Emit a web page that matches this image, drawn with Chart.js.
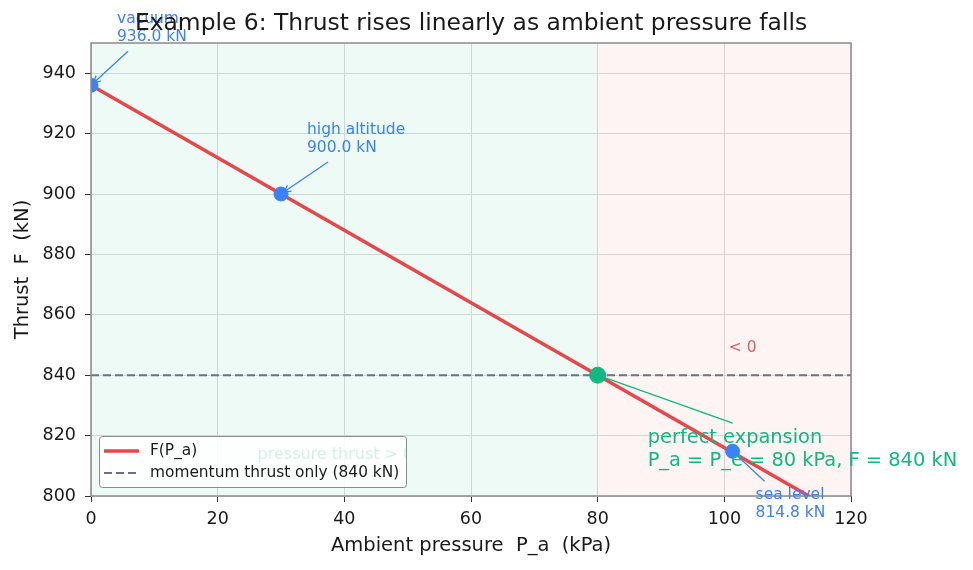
<!DOCTYPE html>
<html>
<head>
<meta charset="utf-8">
<script src="https://cdn.jsdelivr.net/npm/chart.js@4.4.1/dist/chart.umd.min.js"></script>
<style>
  html, body { margin: 0; padding: 0; background: #ffffff; }
  #wrap { width: 973px; height: 570px; }
</style>
</head>
<body>
<div id="wrap"><canvas id="thrustChart" width="973" height="570"></canvas></div>
<script>
// ---- data ----
const linePressure = [0, 120];            // kPa
const lineThrust = [936, 792];            // kN (clipped at 800 by the axis)
const momentumPressure = [0, 120];
const momentumThrust = [840, 840];
const keyNames = ['vacuum', 'high altitude', 'perfect expansion', 'sea level'];
const keyPressure = [0, 30, 80, 101.3];
const keyThrust = [936.0, 900.0, 840.0, 814.8];
const xTicks = [0, 20, 40, 60, 80, 100, 120];
const yTicks = [800, 820, 840, 860, 880, 900, 920, 940];

const colors = {
  red: '#e8474a',
  blue: '#3b82f6',
  green: '#10b981',
  gray: '#6b7280',
  frame: '#8a8a8a',
  grid: '#d9dcdc'
};
const FONT = '"DejaVu Sans", Verdana, sans-serif';

// label offsets relative to each key point (pixels)
const notes = [
  { dx: 26, dy: -66, lines: [keyNames[0], '936.0 kN'], size: 15.5, color: colors.blue, tail: [37, -34], arrow: true },
  { dx: 26, dy: -64, lines: [keyNames[1], '900.0 kN'], size: 15.5, color: colors.blue, tail: [47, -32], arrow: true },
  { dx: 50, dy: 63, lines: [keyNames[2], 'P_a = P_e = 80 kPa, F = 840 kN'], size: 19.4, color: colors.green, tail: [135, 48], arrow: false },
  { dx: 23, dy: 44, lines: [keyNames[3], '814.8 kN'], size: 15.5, color: colors.blue, tail: [32, 30], arrow: false }
];

const regionPlugin = {
  id: 'regions',
  beforeDatasetsDraw(chart) {
    const { ctx, chartArea: a, scales: { x, y } } = chart;
    ctx.save();
    ctx.fillStyle = 'rgba(16,185,129,0.07)';
    ctx.fillRect(a.left, a.top, x.getPixelForValue(80) - a.left, a.bottom - a.top);
    ctx.fillStyle = 'rgba(239,68,68,0.06)';
    ctx.fillRect(x.getPixelForValue(80), a.top, a.right - x.getPixelForValue(80), a.bottom - a.top);
    ctx.font = '15.5px ' + FONT;
    ctx.textBaseline = 'middle';
    ctx.fillStyle = 'rgba(229,62,62,0.85)';
    ctx.textAlign = 'left';
    ctx.fillText('< 0', x.getPixelForValue(100.7), y.getPixelForValue(849));
    ctx.restore();
  }
};

const overlayPlugin = {
  id: 'overlay',
  afterDraw(chart) {
    const { ctx, chartArea: a, scales: { x, y } } = chart;
    ctx.save();
    // frame
    ctx.strokeStyle = colors.frame;
    ctx.lineWidth = 1.5;
    ctx.strokeRect(a.left, a.top, a.right - a.left, a.bottom - a.top);

    // annotations
    notes.forEach((n, i) => {
      const px = x.getPixelForValue(keyPressure[i]);
      const py = y.getPixelForValue(keyThrust[i]);
      const tx = px + n.tail[0], ty = py + n.tail[1];
      const ang = Math.atan2(py - ty, px - tx);
      ctx.strokeStyle = n.color;
      ctx.lineWidth = 1.3;
      const gap = n.arrow ? 3 : 9;
      const ex = px - Math.cos(ang) * gap, ey = py - Math.sin(ang) * gap;
      ctx.beginPath();
      ctx.moveTo(tx, ty);
      ctx.lineTo(ex, ey);
      ctx.stroke();
      if (n.arrow) {
        ctx.beginPath();
        ctx.moveTo(ex - Math.cos(ang - 0.45) * 8, ey - Math.sin(ang - 0.45) * 8);
        ctx.lineTo(ex, ey);
        ctx.lineTo(ex - Math.cos(ang + 0.45) * 8, ey - Math.sin(ang + 0.45) * 8);
        ctx.stroke();
      }
      ctx.fillStyle = n.color;
      ctx.font = n.size + 'px ' + FONT;
      ctx.textAlign = 'left';
      ctx.textBaseline = 'middle';
      const lh = n.size * 1.16;
      n.lines.forEach((t, k) => ctx.fillText(t, px + n.dx, py + n.dy + k * lh));
    });

    // title
    ctx.fillStyle = '#1a1a1a';
    ctx.font = '23.4px ' + FONT;
    ctx.textAlign = 'center';
    ctx.textBaseline = 'middle';
    ctx.fillText('Example 6: Thrust rises linearly as ambient pressure falls', (a.left + a.right) / 2, 24);

    // legend box
    const lx = a.left + 8, ly = a.bottom - 60, lw = 307, lh = 51;
    ctx.fillStyle = 'rgba(255,255,255,0.85)';
    ctx.strokeStyle = '#8c8c8c';
    ctx.lineWidth = 1;
    ctx.beginPath();
    ctx.roundRect(lx + 0.5, ly + 0.5, lw, lh, 3);
    ctx.fill();
    ctx.stroke();

    // faint caption of the positive pressure-thrust region, only showing on the legend
    ctx.save();
    ctx.beginPath();
    ctx.rect(lx + 1, ly + 1, lw - 1, lh - 1);
    ctx.clip();
    ctx.font = '16px ' + FONT;
    ctx.textAlign = 'left';
    ctx.fillStyle = '#d8efe8';
    ctx.fillText('pressure thrust > 0', x.getPixelForValue(26.3), y.getPixelForValue(813.7));
    ctx.restore();

    const items = chart.data.datasets.slice(0, 2);
    ctx.font = '15.4px ' + FONT;
    ctx.textAlign = 'left';
    items.forEach((d, k) => {
      const yy = ly + 15 + k * 22;
      ctx.strokeStyle = d.borderColor;
      ctx.lineWidth = d.borderWidth;
      ctx.setLineDash(d.borderDash || []);
      ctx.beginPath();
      ctx.moveTo(lx + 5, yy);
      ctx.lineTo(lx + 40, yy);
      ctx.stroke();
      ctx.setLineDash([]);
      ctx.fillStyle = '#1a1a1a';
      ctx.fillText(d.label, lx + 51, yy);
    });
    ctx.restore();
  }
};

const toXY = (xs, ys) => xs.map((v, i) => ({ x: v, y: ys[i] }));

new Chart(document.getElementById('thrustChart').getContext('2d'), {
  type: 'scatter',
  data: {
    datasets: [
      {
        label: 'F(P_a)',
        type: 'line',
        data: toXY(linePressure, lineThrust),
        borderColor: colors.red,
        borderWidth: 3.5,
        pointRadius: 0,
        fill: false,
        order: 2
      },
      {
        label: 'momentum thrust only (840 kN)',
        type: 'line',
        data: toXY(momentumPressure, momentumThrust),
        borderColor: colors.gray,
        borderWidth: 2,
        borderDash: [8, 4],
        pointRadius: 0,
        fill: false,
        order: 3
      },
      {
        label: 'key points',
        data: toXY(keyPressure, keyThrust),
        backgroundColor: [colors.blue, colors.blue, colors.green, colors.blue],
        borderColor: [colors.blue, colors.blue, colors.green, colors.blue],
        pointRadius: [7, 7, 8, 7],
        order: 1
      }
    ]
  },
  options: {
    responsive: false,
    animation: false,
    layout: { padding: { top: 43, right: 122, left: 0, bottom: 0 } },
    plugins: {
      legend: { display: false },
      tooltip: { enabled: false },
      title: { display: false }
    },
    scales: {
      x: {
        type: 'linear',
        min: 0,
        max: 120,
        afterBuildTicks: s => { s.ticks = xTicks.map(v => ({ value: v })); },
        afterFit: s => { s.height = 74; },
        grid: { color: colors.grid, tickColor: '#333', tickLength: 6, lineWidth: 1 },
        border: { display: false },
        ticks: { color: '#1a1a1a', font: { family: FONT, size: 17.5 }, padding: 7, maxRotation: 0 },
        title: { display: true, text: 'Ambient pressure  P_a  (kPa)', color: '#1a1a1a', font: { family: FONT, size: 19.5 }, padding: { top: 4, bottom: 12 } }
      },
      y: {
        type: 'linear',
        min: 800,
        max: 950,
        afterBuildTicks: s => { s.ticks = yTicks.map(v => ({ value: v })); },
        afterFit: s => { s.width = 91; },
        grid: { color: colors.grid, tickColor: '#333', tickLength: 6, lineWidth: 1 },
        border: { display: false },
        ticks: { color: '#1a1a1a', font: { family: FONT, size: 17.5 }, padding: 9 },
        title: { display: true, text: 'Thrust  F  (kN)', color: '#1a1a1a', font: { family: FONT, size: 19.5 }, padding: { top: 11, bottom: 0 } }
      }
    }
  },
  plugins: [regionPlugin, overlayPlugin]
});
</script>
</body>
</html>
